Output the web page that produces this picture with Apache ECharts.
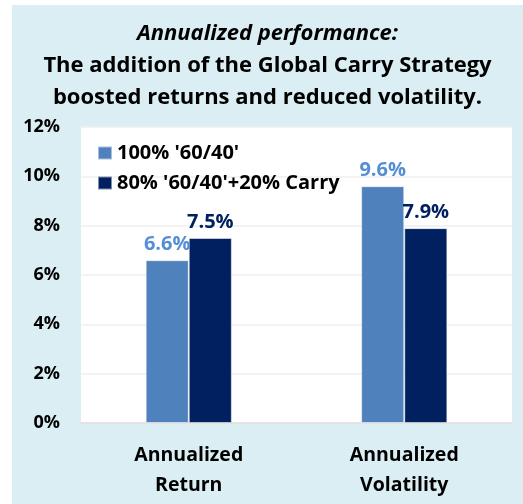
<!DOCTYPE html>
<html lang="en">
<head>
<meta charset="UTF-8">
<title>Annualized performance</title>
<script src="https://cdn.jsdelivr.net/npm/echarts@6/dist/echarts.min.js"></script>
<style>
    html, body { margin: 0; padding: 0; background: #fff; }
    #main { position: absolute; left: 12px; top: 5px; width: 511px; height: 499px; }
</style>
</head>
<body>
<div id="main"></div>
<script type="text/javascript">
// data
var categories = ['Annualized\nReturn', 'Annualized\nVolatility'];
var seriesNames = ["100% '60/40'", "80% '60/40'+20% Carry"];
var base6040 = [6.6, 9.6];
var withCarry = [7.5, 7.9];
var yTicks = [0, 2, 4, 6, 8, 10, 12];

var font = '"Open Sans", sans-serif';
var myChart = echarts.init(document.getElementById('main'));

var option = {
    backgroundColor: '#DAEEF3',
    animation: false,
    title: {
        left: 'center',
        top: 8,
        text: '{i|Annualized performance:}\n{b|The addition of the Global Carry Strategy}\n{b|boosted returns and reduced volatility.}',
        textStyle: {
            fontFamily: font,
            rich: {
                i: { fontSize: 22, fontWeight: 'bold', fontStyle: 'italic', color: '#000', lineHeight: 32, fontFamily: font },
                b: { fontSize: 22, fontWeight: 'bold', color: '#000', lineHeight: 32, fontFamily: font }
            }
        }
    },
    legend: {
        orient: 'vertical',
        left: 80,
        top: 133,
        itemWidth: 14,
        itemHeight: 13,
        itemGap: 10,
        icon: 'rect',
        data: seriesNames,
        textStyle: { fontFamily: font, fontSize: 20, fontWeight: 'bold', color: '#000' }
    },
    grid: {
        left: 69,
        right: 11,
        top: 122,
        bottom: 81,
        show: true,
        backgroundColor: '#fff',
        borderWidth: 0
    },
    xAxis: {
        type: 'category',
        data: categories,
        axisTick: { show: false },
        axisLine: { lineStyle: { color: '#E6E2E2', width: 2 } },
        axisLabel: {
            margin: 17,
            lineHeight: 30,
            fontFamily: font,
            fontSize: 19.5,
            fontWeight: 'bold',
            color: '#000'
        }
    },
    yAxis: {
        type: 'value',
        min: yTicks[0],
        max: yTicks[yTicks.length - 1],
        interval: 2,
        axisLine: { show: false },
        axisTick: { show: false },
        splitLine: { lineStyle: { color: '#EFEFEF', width: 1.5 } },
        axisLabel: {
            margin: 21,
            fontFamily: font,
            fontSize: 18,
            fontWeight: 'bold',
            color: '#000',
            formatter: '{value}%'
        }
    },
    series: [
        {
            name: seriesNames[0],
            type: 'bar',
            data: base6040,
            barGap: '0%',
            barCategoryGap: '60%',
            itemStyle: { color: '#4F81BD', borderColor: 'rgba(255,255,255,0.5)', borderWidth: 1 },
            label: {
                show: true,
                position: 'top',
                distance: 6,
                fontFamily: font,
                fontSize: 20,
                fontWeight: 'bold',
                color: '#558ED5',
                formatter: function (p) { return p.value.toFixed(1) + '%'; }
            }
        },
        {
            name: seriesNames[1],
            type: 'bar',
            data: withCarry,
            itemStyle: { color: '#002060', borderColor: 'rgba(255,255,255,0.5)', borderWidth: 1 },
            label: {
                show: true,
                position: 'top',
                distance: 6,
                fontFamily: font,
                fontSize: 20,
                fontWeight: 'bold',
                color: '#002060',
                formatter: function (p) { return p.value.toFixed(1) + '%'; }
            }
        }
    ]
};
myChart.setOption(option);
</script>
</body>
</html>
